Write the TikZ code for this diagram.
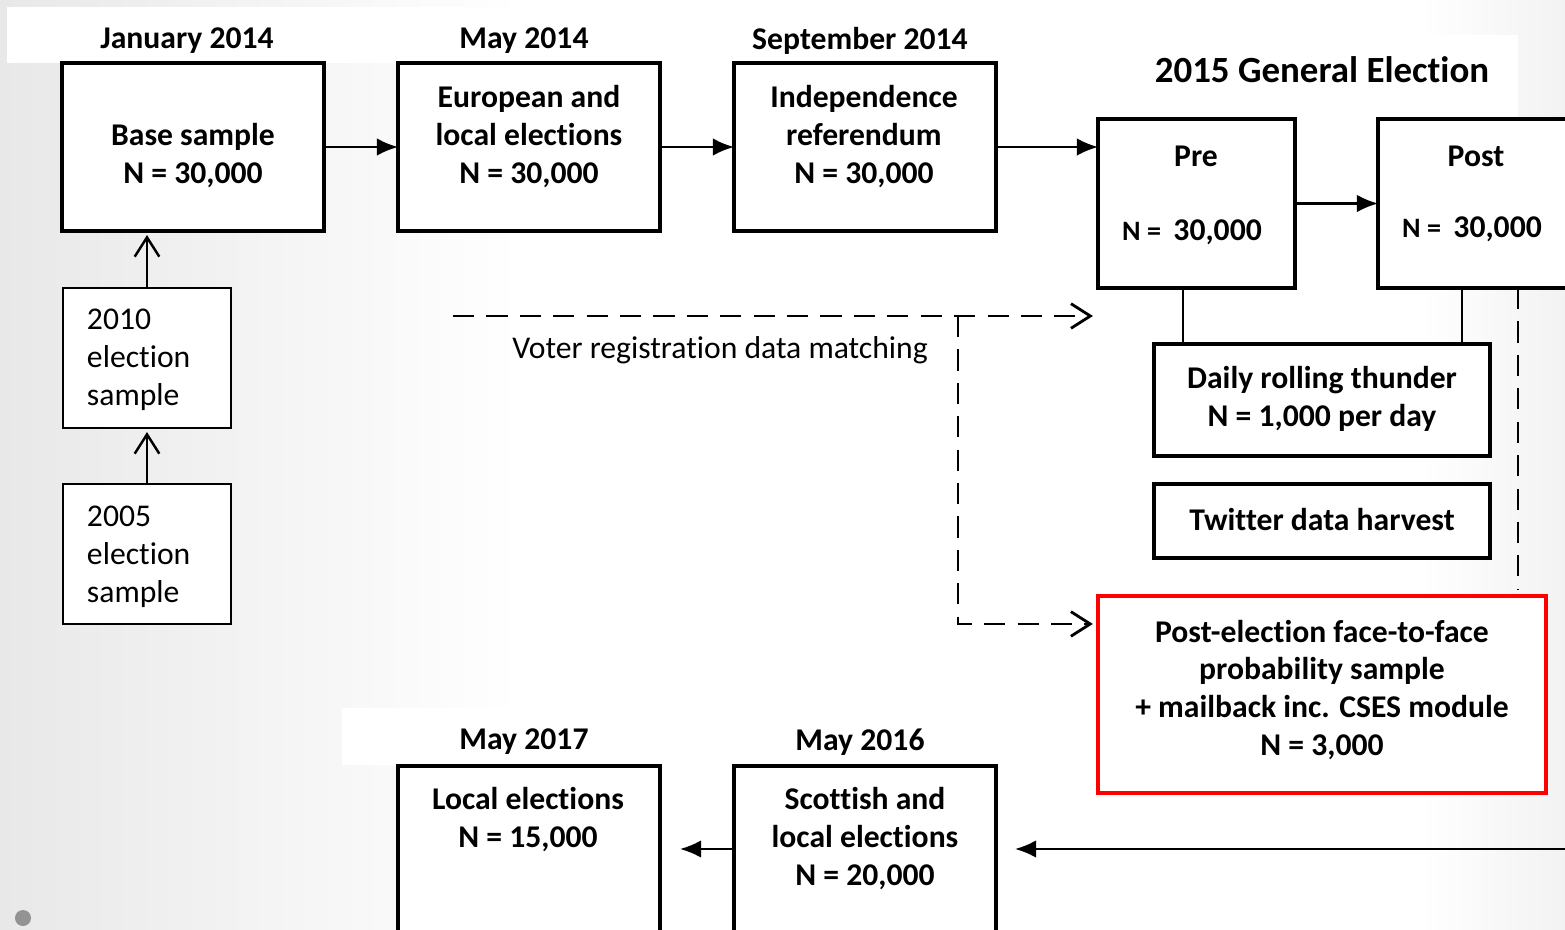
\documentclass[tikz,border=0pt]{standalone}
\usepackage{fontspec}
\setmainfont[Ligatures=NoCommon]{Carlito}
\usetikzlibrary{arrows.meta}

\begin{document}
\begin{tikzpicture}[x=0.01cm, y=-0.01cm]
\tikzset{ >=Latex, inner sep=0pt, outer sep=0pt,
  box/.style={draw, line width=1pt, fill=white},
  thinbox/.style={draw, line width=0.45pt, fill=white},
  redbox/.style={draw=red, line width=1.2pt, fill=white},
  txt/.style={font=\fontsize{9}{10.8}\selectfont\bfseries, align=center, yshift=-0.03cm},
  plain/.style={font=\fontsize{9}{10.8}\selectfont, align=left, yshift=-0.03cm},
  link/.style={line width=0.6pt, -{Latex[length=6pt,width=5pt]}},
  openlink/.style={line width=0.7pt, -{Straight Barb[length=5.5pt,width=7pt]}},
  dashlink/.style={line width=0.8pt, dash pattern=on 6pt off 3.5pt, -{Straight Barb[length=5.5pt,width=7pt]}},
  tie/.style={line width=0.5pt},
}

\useasboundingbox (0,0) rectangle (1565,930);
\clip (0,0) rectangle (1565,930);

%%% Fundo
\fill[white] (0,0) rectangle (1565,930);
\shade[left color=gray!18, right color=white] (0,0) rectangle (520,930);
\shade[left color=white, right color=gray!10] (1420,0) rectangle (1565,930);
\fill[white] (7,7) rectangle (1000,63);
\fill[white] (1100,35) rectangle (1518,118);
\fill[white] (342,708) rectangle (1000,765);
\fill[gray!85] (23,918) circle (0.08cm);

%%% Blocos

% base sample
\node [box, minimum width=2.62cm, minimum height=1.68cm] (base) at (193,147) { };
\node [txt] (baseT) at (193,153) {Base sample\\N = 30,000};
\node [txt] (jan) at (187,38) {January 2014};

% european
\node [box, minimum width=2.62cm, minimum height=1.68cm] (euro) at (529,147) { };
\node [txt] (euroT) at (529,134) {European and\\local elections\\N = 30,000};
\node [txt] (may14) at (524,38) {May 2014};

% independence
\node [box, minimum width=2.62cm, minimum height=1.68cm] (indep) at (865,147) { };
\node [txt] (indepT) at (864,134) {Independence\\referendum\\N = 30,000};
\node [txt] (sep14) at (860,38) {September 2014};

% general election
\node [txt, font=\fontsize{10.5}{12.6}\selectfont\bfseries] (ge) at (1322,67) {2015 General Election};
\node [box, minimum width=1.97cm, minimum height=1.69cm] (pre) at (1196.5,203.5) { };
\node [txt] (preT) at (1196,153) {Pre};
\node [txt] (preN) at (1192,229) {{\fontsize{8}{9.6}\selectfont N =}\, 30,000};
\node [box, minimum width=2.00cm, minimum height=1.69cm] (post) at (1478,203.5) { };
\node [txt] (postT) at (1476,153) {Post};
\node [txt] (postN) at (1472,226) {{\fontsize{8}{9.6}\selectfont N =}\, 30,000};

% rolling thunder, twitter
\node [box, minimum width=3.36cm, minimum height=1.12cm] (daily) at (1322,400) { };
\node [txt] (dailyT) at (1322,396) {Daily rolling thunder\\N = 1,000 per day};
\node [box, minimum width=3.36cm, minimum height=0.74cm] (twit) at (1322,521) { };
\node [txt] (twitT) at (1322,517) {Twitter data harvest};

% face-to-face
\node [redbox, minimum width=4.48cm, minimum height=1.97cm] (f2f) at (1322,694.5) { };
\node [txt] (f2fT) at (1322,687) {Post-election face-to-face\\probability sample\\+ mailback inc. CSES module\\N = 3,000};

% old samples
\node [thinbox, minimum width=1.68cm, minimum height=1.40cm] (s2010) at (147,358) { };
\node [plain, anchor=west] (s2010T) at (87,357) {2010\\election\\sample};
\node [thinbox, minimum width=1.68cm, minimum height=1.40cm] (s2005) at (147,554) { };
\node [plain, anchor=west] (s2005T) at (87,554) {2005\\election\\sample};

% later waves
\node [box, minimum width=2.62cm, minimum height=1.94cm] (scot) at (865,863) { };
\node [txt] (scotT) at (865,836) {Scottish and\\local elections\\N = 20,000};
\node [txt] (may16) at (860,739) {May 2016};
\node [box, minimum width=2.62cm, minimum height=1.94cm] (local) at (529,863) { };
\node [txt] (localT) at (528,817) {Local elections\\N = 15,000};
\node [txt] (may17) at (524,739) {May 2017};

% voter registration
\node [plain] (voter) at (720,347) {Voter registration data matching};

%%% Linhas

\draw [link] (base.east) -- (euro.west);
\draw [link] (euro.east) -- (indep.west);
\draw [link] (indep.east) -- (indep.east -| pre.west);
\draw [link] (pre.east) -- (post.west);

\draw [openlink, shorten >=0.04cm] (s2010.north) -- (s2010.north |- base.south);
\draw [openlink, shorten >=0.04cm] (s2005.north) -- (s2010.south);

\draw [tie] ([xshift=-0.135cm]pre.south) -- ([xshift=-0.135cm]pre.south |- daily.north);
\draw [tie] ([xshift=-0.16cm]post.south) -- ([xshift=-0.16cm]post.south |- daily.north);
\draw [tie, line width=0.7pt, dash pattern=on 6pt off 3.5pt, shorten >=0.06cm] ([xshift=0.4cm]post.south) -- ([xshift=0.4cm]post.south |- f2f.north);

% voter data matching
\coordinate (vstart) at (453,316);
\coordinate (vsplit) at (958,316);
\draw [dashlink, shorten >=0.05cm] (vstart) -- (vstart -| pre.west);
\draw [dashlink, shorten >=0.05cm] (vsplit) |- ([yshift=0.705cm]f2f.west);

% back to later waves
\coordinate (rin) at (1590,849);
\draw [link, shorten >=0.19cm] (rin) -- (rin -| scot.east);
\draw [link, shorten >=0.2cm] (rin -| scot.west) -- (rin -| local.east);

\end{tikzpicture}
\end{document}
